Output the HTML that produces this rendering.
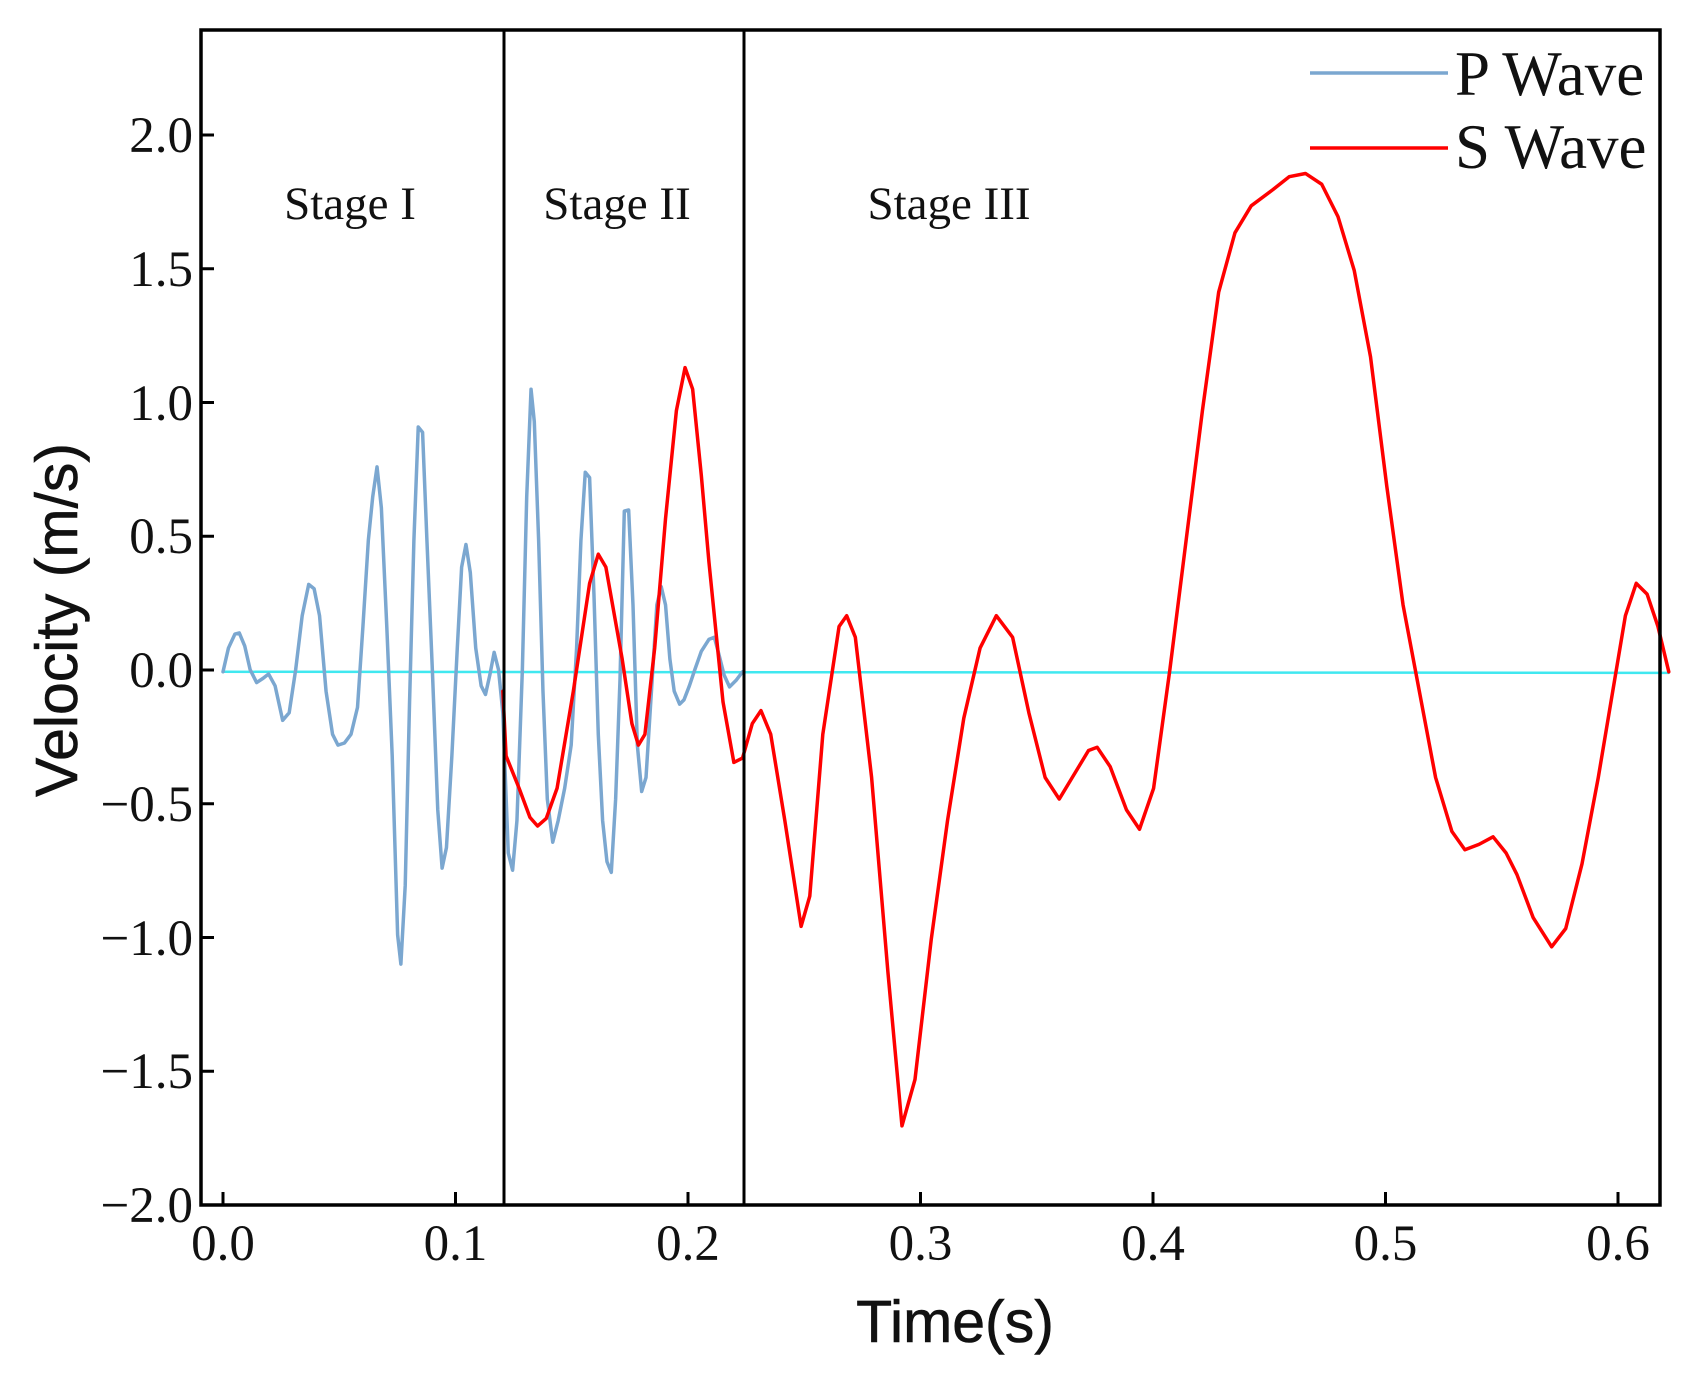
<!DOCTYPE html>
<html><head><meta charset="utf-8"><style>
html,body{margin:0;padding:0;background:#fff}
svg{display:block}
.tk{font-family:"Liberation Serif",serif;font-size:51px;fill:#111}
</style></head><body>
<svg width="1692" height="1384" viewBox="0 0 1692 1384" xmlns="http://www.w3.org/2000/svg">
<rect width="1692" height="1384" fill="#fff"/>
<g transform="matrix(1.0846 0 0 1.0786 -1.5 0.9)" fill="none" stroke-linejoin="round" stroke-linecap="round">
<polyline vector-effect="non-scaling-stroke" stroke="#40e8f0" stroke-width="2.5" points="207,622 1540,623"/>
<polyline vector-effect="non-scaling-stroke" stroke="#7ba7d0" stroke-width="3.5" points="207,622 212,600 218,587 222,586 227,598 232,620 238,632 244,628 249,624 255,635 262,667 268,660 274,620 280,570 286,541 291,545 296,570 302,640 308,680 313,690 319,688 325,680 331,655 336,580 341,500 345,460 349,432 353,470 358,580 363,700 368,866 371,893 375,820 379,650 383,500 387,395 391,400 395,500 400,620 405,750 409,804 413,785 418,700 423,600 427,525 431,504 435,530 440,600 445,635 449,643 453,625 457,604 461,620 465,660 470,790 474,806 478,760 483,620 487,460 491,360 494,390 498,500 502,640 506,740 511,780 516,760 522,730 528,690 533,600 537,500 541,437 545,442 549,550 553,680 557,760 561,798 565,808 569,740 573,630 577,473 581,472 585,560 589,690 593,733 597,720 602,640 607,560 611,543 615,560 619,610 623,640 628,652 632,648 637,635 642,620 648,603 655,592 660,590 664,605 669,625 674,636 680,630 686,622"/>
<polyline vector-effect="non-scaling-stroke" stroke="#ff0000" stroke-width="3.5" points="465,640 468,700 480,730 490,757 497,765 505,758 515,730 530,640 545,540 553,513 560,525 575,610 584,670 590,690 596,680 605,600 615,480 625,380 633,340 640,360 648,440 655,520 668,650 678,706 686,702 695,670 703,658 712,680 725,760 740,858 748,830 760,680 775,580 782,570 790,590 805,720 820,900 833,1043 845,1000 860,870 875,760 890,665 905,600 920,570 935,590 950,660 965,720 978,740 990,720 1005,695 1013,692 1025,710 1040,750 1052,768 1065,730 1080,620 1095,500 1110,380 1125,270 1140,215 1155,190 1175,175 1190,163 1205,160 1220,170 1235,200 1250,250 1265,330 1280,450 1295,560 1310,640 1325,720 1340,770 1352,787 1365,782 1378,775 1390,790 1400,810 1415,850 1432,877 1445,860 1460,800 1475,720 1490,630 1500,570 1510,540 1520,550 1530,580 1540,622"/>
</g>
<line x1="504" y1="30" x2="504" y2="1205" stroke="#000" stroke-width="3"/>
<line x1="744" y1="30" x2="744" y2="1205" stroke="#000" stroke-width="3"/>
<rect x="201" y="30" width="1459" height="1175" fill="none" stroke="#000" stroke-width="3.5"/>
<g stroke="#000" stroke-width="3">
<line x1="201" y1="135" x2="214" y2="135"/><line x1="201" y1="268.75" x2="214" y2="268.75"/><line x1="201" y1="402.5" x2="214" y2="402.5"/><line x1="201" y1="536.25" x2="214" y2="536.25"/><line x1="201" y1="670" x2="214" y2="670"/><line x1="201" y1="803.75" x2="214" y2="803.75"/><line x1="201" y1="937.5" x2="214" y2="937.5"/><line x1="201" y1="1071.25" x2="214" y2="1071.25"/>
<line x1="223" y1="1205" x2="223" y2="1192"/><line x1="455.5" y1="1205" x2="455.5" y2="1192"/><line x1="688" y1="1205" x2="688" y2="1192"/><line x1="920.5" y1="1205" x2="920.5" y2="1192"/><line x1="1153" y1="1205" x2="1153" y2="1192"/><line x1="1385.5" y1="1205" x2="1385.5" y2="1192"/><line x1="1618" y1="1205" x2="1618" y2="1192"/>
</g>
<g class="tk" text-anchor="end">
<text x="193" y="152">2.0</text><text x="193" y="286">1.5</text><text x="193" y="420">1.0</text><text x="193" y="553">0.5</text><text x="193" y="687">0.0</text><text x="193" y="821">−0.5</text><text x="193" y="955">−1.0</text><text x="193" y="1088">−1.5</text><text x="193" y="1222">−2.0</text>
</g>
<g class="tk" text-anchor="middle">
<text x="223" y="1260">0.0</text><text x="455.5" y="1260">0.1</text><text x="688" y="1260">0.2</text><text x="920.5" y="1260">0.3</text><text x="1153" y="1260">0.4</text><text x="1385.5" y="1260">0.5</text><text x="1618" y="1260">0.6</text>
</g>
<g font-family="Liberation Serif, serif" font-size="47" fill="#111" text-anchor="middle">
<text x="350" y="219">Stage I</text><text x="617" y="219">Stage II</text><text x="949" y="219">Stage III</text>
</g>
<line x1="1310" y1="73" x2="1448" y2="73" stroke="#7ba7d0" stroke-width="3.5"/>
<line x1="1310" y1="148" x2="1448" y2="148" stroke="#ff0000" stroke-width="3.5"/>
<g font-family="Liberation Serif, serif" font-size="63" fill="#111">
<text x="1455" y="95">P Wave</text><text x="1455" y="168">S Wave</text>
</g>
<text x="955" y="1342" font-family="Liberation Sans, sans-serif" font-size="59" fill="#111" text-anchor="middle" stroke="#111" stroke-width="0.6">Time(s)</text>
<text transform="translate(77,620) rotate(-90)" font-family="Liberation Sans, sans-serif" font-size="59" fill="#111" text-anchor="middle" stroke="#111" stroke-width="0.6">Velocity (m/s)</text>
</svg>
</body></html>
